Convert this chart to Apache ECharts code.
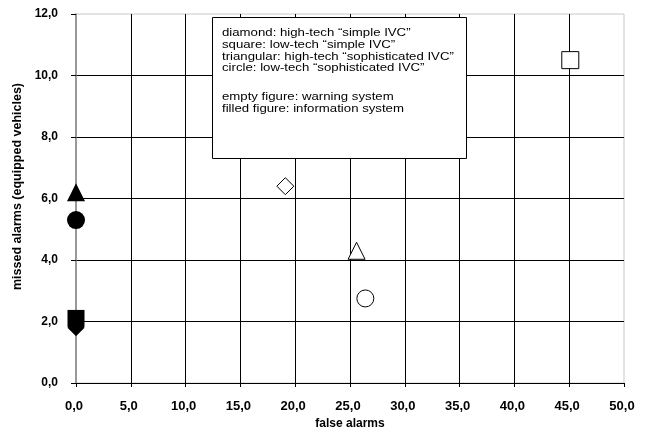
<!DOCTYPE html>
<html><head><meta charset="utf-8">
<script src="https://cdn.jsdelivr.net/npm/echarts@6/dist/echarts.min.js"></script>
<style>html,body{margin:0;padding:0;background:#fff}#c{width:648px;height:430px}</style>
</head><body><div id="c"></div>
<script>
const xTicks = [0,5,10,15,20,25,30,35,40,45,50];
const yTicks = [0,2,4,6,8,10,12];
// [false alarms, missed alarms]
const diamondWarning = [[19.1, 6.4]];
const squareWarning = [[45.1, 10.5]];
const triangleWarning = [[25.6, 4.3]];
const circleWarning = [[26.4, 2.75]];
const diamondInfo = [[0, 1.8]];
const squareInfo = [[0, 2.1]];
const triangleInfo = [[0, 6.2]];
const circleInfo = [[0, 5.3]];
const legendLines = [
  'diamond: high-tech \u201csimple IVC\u201d',
  'square: low-tech \u201csimple IVC\u201d',
  'triangular: high-tech \u201csophisticated IVC\u201d',
  'circle: low-tech \u201csophisticated IVC\u201d',
  'empty figure: warning system',
  'filled figure: information system'
];
const legendLineY = [32.7, 44.6, 56.5, 68.3, 97.3, 109];

const chart = echarts.init(document.getElementById('c'), null, {renderer:'canvas'});
const F = 'Liberation Sans, Arial, sans-serif';
function emptyS(name, data, sym, size){
  return {name, type:'scatter', data, symbol:sym, symbolSize:size,
    itemStyle:{color:'#fff', borderColor:'#000', borderWidth:1, opacity:1}, z:5};
}
function fillS(name, data, sym, size){
  return {name, type:'scatter', data, symbol:sym, symbolSize:size,
    itemStyle:{color:'#000', opacity:1}, z:5};
}
const graphics = [
  {type:'rect', left:212, top:17, shape:{width:254, height:141},
    style:{fill:'#fff', stroke:'#000', lineWidth:1}, z:10}
];
legendLines.forEach((t,i)=>{
  graphics.push({type:'text', x:222, y:legendLineY[i], scaleX:1.2, z:11,
    style:{text:t, x:0, y:0, font:'11px '+F, fill:'#000', verticalAlign:'middle', align:'left'}});
});
chart.setOption({
  animation:false,
  grid:{left:76, right:24, top:14, bottom:47, containLabel:false, outerBoundsMode:'none',
    show:true, borderColor:'#c8c8c8', borderWidth:1, backgroundColor:'transparent'},
  xAxis:{type:'value', min:0, max:50, interval:5,
    name:'false alarms', nameLocation:'middle', nameGap:30,
    nameTextStyle:{fontFamily:F, fontWeight:'bold', fontSize:12, color:'#000'},
    axisLine:{show:true, onZero:false, lineStyle:{color:'#000', width:1}},
    axisTick:{show:true, length:4, lineStyle:{color:'#000'}},
    axisLabel:{fontFamily:F, fontWeight:'bold', fontSize:13, color:'#000', margin:17,
      padding:[0,4,0,0],
      formatter:v=>v.toFixed(1).replace('.',',')},
    splitLine:{show:true, showMinLine:false, showMaxLine:false, lineStyle:{color:'#000', width:1}}
  },
  yAxis:{type:'value', min:0, max:12, interval:2,
    name:'missed alarms (equipped vehicles)', nameLocation:'middle', nameGap:52,
    nameTextStyle:{fontFamily:F, fontWeight:'bold', fontSize:12.5, color:'#000', padding:[0,0,0,24]},
    axisLine:{show:true, onZero:false, lineStyle:{color:'#808080', width:1.5}},
    axisTick:{show:true, length:5, lineStyle:{color:'#000'}},
    axisLabel:{fontFamily:F, fontWeight:'bold', fontSize:12, color:'#000', margin:18,
      formatter:v=>v.toFixed(1).replace('.',',')},
    splitLine:{show:true, showMinLine:false, showMaxLine:false, lineStyle:{color:'#000', width:1}}
  },
  graphic:graphics,
  series:[
    fillS('diamondInfo', diamondInfo, 'diamond', 17),
    fillS('squareInfo', squareInfo, 'rect', 17),
    fillS('triangleInfo', triangleInfo, 'triangle', 18),
    fillS('circleInfo', circleInfo, 'circle', 18),
    emptyS('diamondWarning', diamondWarning, 'diamond', 17),
    emptyS('squareWarning', squareWarning, 'rect', 17),
    emptyS('triangleWarning', triangleWarning, 'triangle', 17),
    emptyS('circleWarning', circleWarning, 'circle', 17)
  ]
});
</script></body></html>
